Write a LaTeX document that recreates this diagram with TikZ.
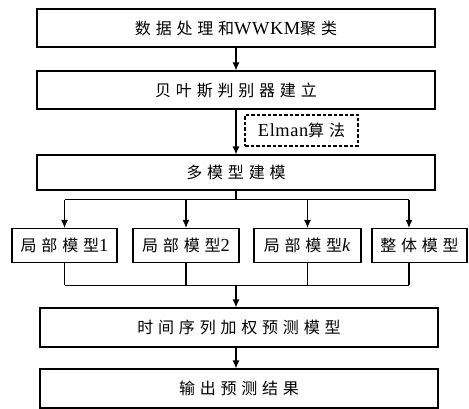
\documentclass[tikz,border=0pt]{standalone}
\usepackage{fontspec}
\setmainfont{Liberation Serif}[Scale=1.15,LetterSpace=3]
\newfontfamily\cjk[LetterSpace=30]{Noto Sans CJK SC}
\usetikzlibrary{arrows.meta}
\newcommand{\arw}{-{Latex[length=2.8mm,width=2.4mm]}}
\tikzset{box/.style={draw,inner sep=0pt,minimum height=38pt,font=\fontsize{16}{19}\selectfont}}

\begin{document}
\begin{tikzpicture}[x=1pt,y=-1pt,line width=1.1pt]
\useasboundingbox (0,0) rectangle (469,409);
%main chain
\node[box,minimum width=398pt] (data) at (236,28) {{\cjk 数据处理和}WWKM{\cjk 聚类}};
\node[box,minimum width=398pt] (bayes) at (236,90) {\cjk 贝叶斯判别器建立};
\node[box,minimum width=398pt,minimum height=35pt] (multi) at (236,172.5) {\cjk 多模型建模};
\node[box,dash pattern=on 3.5pt off 2pt,minimum width=113pt,minimum height=31pt] (elman) at (301.5,130.5) {Elman{\cjk 算法}};
\draw[\arw] (data) -- (bayes);
\draw[\arw] (bayes) -- (multi);
%sub models
\node[box,minimum width=105pt,minimum height=34pt] (loc1) at (64.5,245.5) {{\cjk 局部模型}1};
\node[box,minimum width=106pt,minimum height=34pt] (loc2) at (186,245.5) {{\cjk 局部模型}2};
\node[box,minimum width=107pt,minimum height=34pt] (lock) at (307.5,245.5) {{\cjk 局部模型}\textit{k}};
\node[box,minimum width=95pt,minimum height=34pt] (whole) at (419.5,245.5) {\cjk 整体模型};
\coordinate (wtop) at ([xshift=-10.5pt]whole.north);
\coordinate (wbot) at ([xshift=-10.5pt]whole.south);
\draw (multi.south) -- ++(0,9) coordinate (split);
\draw (split -| loc1.north) -- (split -| wtop);
\foreach \n in {loc1,loc2,lock}
  \draw[\arw] (split -| \n.north) -- (\n.north);
\draw[\arw] (split -| wtop) -- (wtop);
%merge
\node[box,minimum width=398pt,minimum height=39pt] (weight) at (239,327.5) {\cjk 时间序列加权预测模型};
\node[box,minimum width=398pt,minimum height=39pt] (out) at (239,388.5) {\cjk 输出预测结果};
\foreach \n in {loc1,loc2,lock}
  \draw (\n.south) -- ++(0,22);
\draw (wbot) -- ++(0,22) coordinate (mend);
\draw (mend -| loc1.south) -- (mend);
\coordinate (merge) at (236,285);
\draw[\arw] (merge) -- (merge |- weight.north);
\draw[\arw] (merge |- weight.south) -- (merge |- out.north);
\end{tikzpicture}
\end{document}
